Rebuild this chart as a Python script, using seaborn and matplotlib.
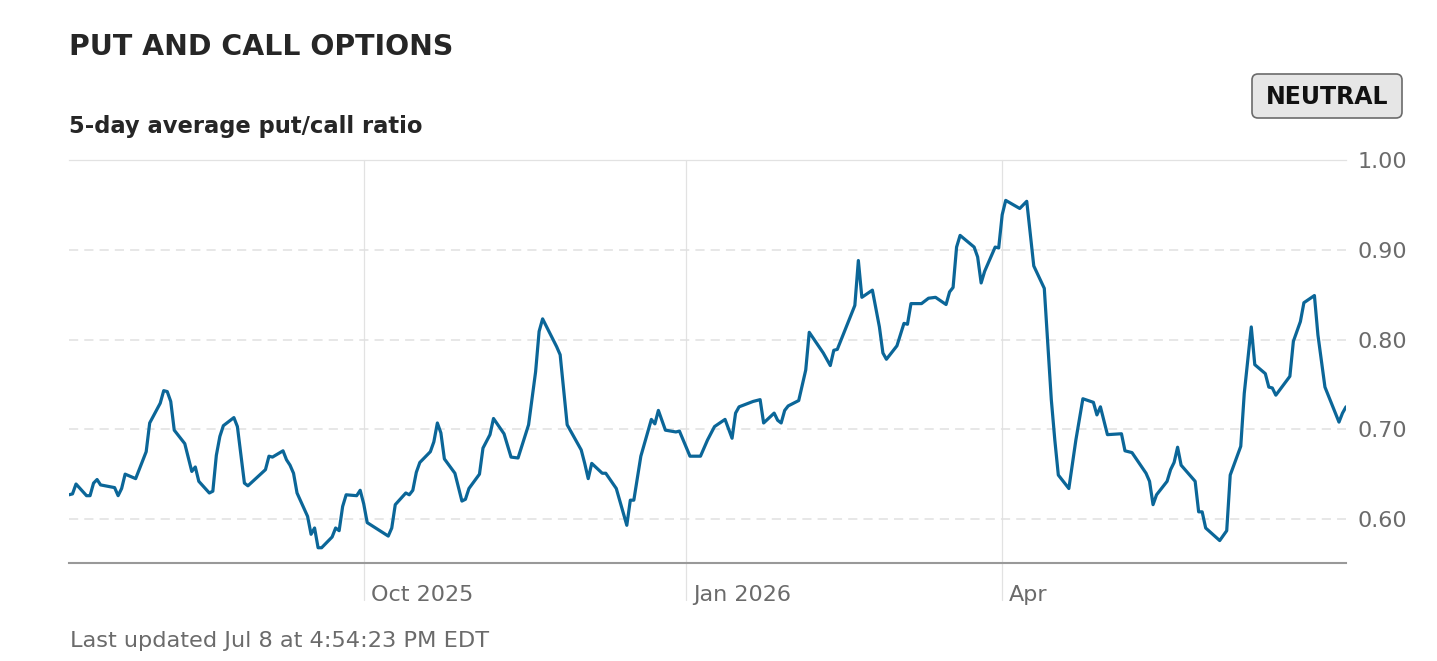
import matplotlib
matplotlib.use('Agg')
import matplotlib.pyplot as plt
import matplotlib.transforms as mtransforms
from matplotlib.patches import FancyBboxPatch
import pandas as pd
import seaborn as sns

# 5-day average put/call ratio
dates = [
    "2025-07-09", "2025-07-10", "2025-07-11", "2025-07-14", "2025-07-15", "2025-07-16", "2025-07-17",
    "2025-07-18", "2025-07-22", "2025-07-23", "2025-07-24", "2025-07-25", "2025-07-28", "2025-07-29",
    "2025-07-31",
    "2025-08-01", "2025-08-04", "2025-08-05", "2025-08-06", "2025-08-07", "2025-08-08", "2025-08-11",
    "2025-08-13", "2025-08-14", "2025-08-15", "2025-08-18", "2025-08-19", "2025-08-20", "2025-08-21",
    "2025-08-22", "2025-08-25", "2025-08-26", "2025-08-28", "2025-08-29",
    "2025-09-03", "2025-09-04", "2025-09-05", "2025-09-08", "2025-09-09", "2025-09-10", "2025-09-11",
    "2025-09-12", "2025-09-15", "2025-09-16", "2025-09-17", "2025-09-18", "2025-09-19", "2025-09-22",
    "2025-09-23", "2025-09-24", "2025-09-25", "2025-09-26", "2025-09-29", "2025-09-30",
    "2025-10-01", "2025-10-02", "2025-10-04", "2025-10-06", "2025-10-08", "2025-10-09", "2025-10-10",
    "2025-10-13", "2025-10-14", "2025-10-15", "2025-10-16", "2025-10-17", "2025-10-20", "2025-10-21",
    "2025-10-22", "2025-10-23", "2025-10-24", "2025-10-27", "2025-10-29", "2025-10-30", "2025-10-31",
    "2025-11-03", "2025-11-04", "2025-11-06", "2025-11-07", "2025-11-10", "2025-11-12", "2025-11-14",
    "2025-11-17", "2025-11-19", "2025-11-20", "2025-11-21", "2025-11-25", "2025-11-26", "2025-11-28",
    "2025-12-02", "2025-12-03", "2025-12-04", "2025-12-05", "2025-12-08", "2025-12-09", "2025-12-12",
    "2025-12-15", "2025-12-16", "2025-12-17", "2025-12-19", "2025-12-22", "2025-12-23", "2025-12-24",
    "2025-12-26", "2025-12-29", "2025-12-30",
    "2026-01-02", "2026-01-05", "2026-01-07", "2026-01-09", "2026-01-12", "2026-01-14", "2026-01-15",
    "2026-01-16", "2026-01-20", "2026-01-22", "2026-01-23", "2026-01-26", "2026-01-27", "2026-01-28",
    "2026-01-29", "2026-01-30",
    "2026-02-02", "2026-02-04", "2026-02-05", "2026-02-09", "2026-02-11", "2026-02-12", "2026-02-13",
    "2026-02-18", "2026-02-19", "2026-02-20", "2026-02-23", "2026-02-25", "2026-02-26", "2026-02-27",
    "2026-03-02", "2026-03-04", "2026-03-05", "2026-03-06", "2026-03-09", "2026-03-11", "2026-03-13",
    "2026-03-16", "2026-03-17", "2026-03-18", "2026-03-19", "2026-03-20", "2026-03-24", "2026-03-25",
    "2026-03-26", "2026-03-27", "2026-03-30", "2026-03-31",
    "2026-04-01", "2026-04-02", "2026-04-06", "2026-04-08", "2026-04-10", "2026-04-13", "2026-04-15",
    "2026-04-16", "2026-04-17", "2026-04-20", "2026-04-22", "2026-04-24", "2026-04-27", "2026-04-28",
    "2026-04-29",
    "2026-05-01", "2026-05-05", "2026-05-06", "2026-05-08", "2026-05-12", "2026-05-13", "2026-05-14",
    "2026-05-15", "2026-05-18", "2026-05-19", "2026-05-20", "2026-05-21", "2026-05-22", "2026-05-26",
    "2026-05-27", "2026-05-28", "2026-05-29",
    "2026-06-02", "2026-06-04", "2026-06-05", "2026-06-08", "2026-06-09", "2026-06-11", "2026-06-12",
    "2026-06-15", "2026-06-16", "2026-06-17", "2026-06-18", "2026-06-22", "2026-06-23", "2026-06-25",
    "2026-06-26", "2026-06-29", "2026-06-30",
    "2026-07-02", "2026-07-06", "2026-07-07", "2026-07-08",
]

ratios = [
    0.627, 0.628, 0.639, 0.626, 0.626, 0.640, 0.644, 0.638, 0.635, 0.626, 0.634, 0.650, 0.645, 0.655, 0.675,
    0.707, 0.729, 0.743, 0.742, 0.731, 0.699, 0.684, 0.653, 0.658, 0.642, 0.629, 0.631, 0.671, 0.692, 0.704,
    0.713, 0.703, 0.640, 0.637,
    0.655, 0.670, 0.669, 0.676, 0.666, 0.660, 0.651, 0.629, 0.603, 0.583, 0.590, 0.568, 0.568, 0.580, 0.590,
    0.587, 0.614, 0.627, 0.626, 0.632,
    0.617, 0.596, 0.591, 0.586, 0.581, 0.590, 0.616, 0.629, 0.627, 0.632, 0.652, 0.663, 0.675, 0.686, 0.707,
    0.696, 0.667, 0.651, 0.620, 0.622, 0.634,
    0.650, 0.679, 0.694, 0.712, 0.695, 0.669, 0.668, 0.705, 0.764, 0.809, 0.823, 0.792, 0.783, 0.705,
    0.677, 0.662, 0.645, 0.662, 0.651, 0.651, 0.634, 0.593, 0.621, 0.621, 0.670, 0.711, 0.706, 0.721, 0.699,
    0.697, 0.698,
    0.670, 0.670, 0.688, 0.703, 0.711, 0.690, 0.718, 0.725, 0.731, 0.733, 0.707, 0.718, 0.710, 0.707, 0.721,
    0.726,
    0.732, 0.766, 0.808, 0.785, 0.771, 0.788, 0.789, 0.838, 0.888, 0.847, 0.855, 0.814, 0.785, 0.778,
    0.793, 0.818, 0.817, 0.840, 0.840, 0.846, 0.847, 0.839, 0.853, 0.858, 0.903, 0.916, 0.903, 0.892, 0.863,
    0.876, 0.903, 0.902,
    0.939, 0.955, 0.946, 0.954, 0.882, 0.857, 0.733, 0.688, 0.649, 0.634, 0.688, 0.734, 0.730, 0.716, 0.725,
    0.694, 0.695, 0.676, 0.674, 0.651, 0.642, 0.616, 0.627, 0.642, 0.655, 0.663, 0.680, 0.660, 0.642, 0.608,
    0.608, 0.590,
    0.576, 0.587, 0.649, 0.681, 0.740, 0.814, 0.772, 0.762, 0.747, 0.746, 0.738, 0.759, 0.798, 0.820, 0.841,
    0.849, 0.805,
    0.747, 0.708, 0.718, 0.725,
]

x_tick_dates = ["2025-10-01", "2026-01-01", "2026-04-01"]
x_tick_labels = ["Oct 2025", "Jan 2026", "Apr"]
y_ticks = [0.60, 0.70, 0.80, 0.90, 1.00]

LINE = '#0b6698'
GREY_TXT = '#6b6b6b'
GRID = '#e2e2e2'

sns.set_style('white')
plt.rcParams['font.family'] = ['DejaVu Sans']

W, H = 1437, 661
fig = plt.figure(figsize=(W / 100, H / 100), dpi=100)
ax = fig.add_axes([69 / W, 1 - 563 / H, 1277 / W, 403 / H])

df = pd.DataFrame({'date': pd.to_datetime(dates), 'ratio': ratios})
sns.lineplot(data=df, x='date', y='ratio', ax=ax, color=LINE, linewidth=2.3)

ax.set_xlim(df['date'].iloc[0], df['date'].iloc[-1])
ax.set_ylim(0.551, 1.0)
ax.set_xlabel('')
ax.set_ylabel('')

# y axis on the right, dashed horizontal grid
ax.yaxis.tick_right()
ax.set_yticks(y_ticks)
ax.set_yticklabels([f'{v:.2f}' for v in y_ticks])
ax.tick_params(axis='y', length=0, pad=8, labelsize=16, labelcolor=GREY_TXT)
ax.grid(axis='y', color='#e0e0e0', linestyle=(0, (6, 4)), linewidth=1.1)
ax.grid(axis='x', visible=False)

# vertical month lines that run down into the label area
tick_ts = pd.to_datetime(x_tick_dates)
for t in tick_ts:
    ax.axvline(t, ymin=-37 / 403, ymax=1, color=GRID, lw=0.9, clip_on=False, zorder=0)

ax.set_xticks(tick_ts)
ax.set_xticklabels(x_tick_labels)
ax.tick_params(axis='x', length=0, pad=16, labelsize=16, labelcolor=GREY_TXT)
shift = mtransforms.ScaledTranslation(0.07, 0, fig.dpi_scale_trans)
for lab in ax.get_xticklabels():
    lab.set_horizontalalignment('left')
    lab.set_transform(lab.get_transform() + shift)

for side in ['left', 'right']:
    ax.spines[side].set_visible(False)
ax.spines['top'].set_color(GRID)
ax.spines['top'].set_linewidth(0.9)
ax.spines['bottom'].set_color('#999999')
ax.spines['bottom'].set_linewidth(1.5)

# titles and footer
fig.text(69 / W, 1 - 55 / H, 'PUT AND CALL OPTIONS', fontsize=20.4, fontweight='bold',
         color='#262626', va='baseline')
fig.text(69 / W, 1 - 133.5 / H, '5-day average put/call ratio', fontsize=16.3, fontweight='bold',
         color='#262626', va='baseline')
fig.text(70 / W, 1 - 646.7 / H, 'Last updated Jul 8 at 4:54:23 PM EDT', fontsize=16.2,
         color=GREY_TXT, va='baseline')

# sentiment badge
badge = FancyBboxPatch((12.52, (H - 118) / 100), 1.50, 0.44,
                       boxstyle='round,pad=0,rounding_size=0.06',
                       transform=fig.dpi_scale_trans, fc='#e6e6e6', ec='#6b6b6b', lw=1.2)
fig.add_artist(badge)
fig.text(13.27, (H - 104.3) / 100, 'NEUTRAL', transform=fig.dpi_scale_trans, fontsize=17,
         fontweight='bold', color='#111111', ha='center', va='baseline')

fig.savefig('out.png', dpi=100)
